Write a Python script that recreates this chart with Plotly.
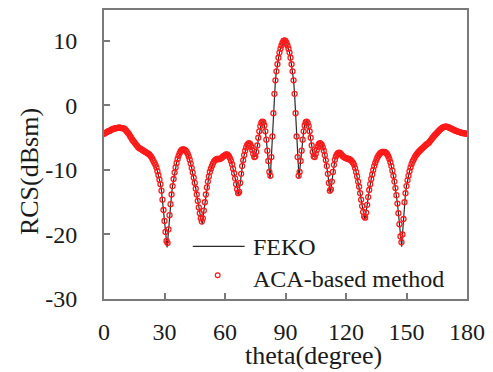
import plotly.graph_objects as go

# ---- data (theta sampled every 0.5 degree) ----
theta = [i * 0.5 for i in range(361)]

aca_rcs = [
    -4.4, -4.3, -4.2, -4.1, -4.0, -3.95, -3.9, -3.8, -3.7, -3.65,
    -3.6, -3.55, -3.5, -3.5, -3.45, -3.45, -3.45, -3.5, -3.5, -3.55,
    -3.6, -3.7, -3.9, -4.1, -4.3, -4.5, -4.8, -5.0, -5.3, -5.5,
    -5.7, -5.9, -6.1, -6.3, -6.5, -6.6, -6.7, -6.8, -6.9, -7.0,
    -7.1, -7.2, -7.3, -7.4, -7.5, -7.6, -7.8, -8.0, -8.3, -8.6,
    -8.9, -9.2, -9.6, -10.2, -10.8, -11.5, -12.2, -13.2, -14.6, -16.2,
    -17.9, -19.6, -21.0, -21.3, -19.2, -17.0, -15.3, -13.8, -12.5, -11.4,
    -10.4, -9.6, -8.9, -8.3, -7.8, -7.4, -7.1, -6.9, -6.8, -6.8,
    -6.9, -7.0, -7.2, -7.5, -7.9, -8.4, -9.0, -9.7, -10.4, -11.2,
    -12.0, -12.9, -13.8, -14.8, -15.8, -16.7, -17.5, -18.0, -17.5, -16.3,
    -15.0, -13.8, -12.7, -11.8, -11.0, -10.3, -9.8, -9.4, -9.0, -8.7,
    -8.5, -8.4, -8.3, -8.3, -8.3, -8.3, -8.2, -8.1, -7.9, -7.8,
    -7.7, -7.6, -7.6, -7.7, -7.9, -8.2, -8.6, -9.1, -9.8, -10.5,
    -11.3, -12.2, -13.0, -13.6, -13.4, -12.0, -10.6, -9.4, -8.5, -7.7,
    -7.0, -6.5, -6.1, -5.9, -5.85, -6.0, -6.4, -6.9, -7.5, -8.0,
    -7.9, -7.2, -6.2, -5.0, -4.0, -3.2, -2.7, -2.5, -2.6, -3.1,
    -4.0, -5.3, -7.0, -8.6, -10.3, -10.9, -8.0, -4.8, -1.2, 1.8,
    3.9, 5.3, 6.4, 7.4, 8.2, 8.8, 9.3, 9.7, 10.0, 10.1,
    10.0, 9.7, 9.3, 8.8, 8.2, 7.4, 6.4, 5.3, 3.9, 1.8,
    -1.2, -4.8, -8.0, -10.9, -10.3, -8.6, -7.0, -5.3, -4.0, -3.1,
    -2.6, -2.5, -2.7, -3.2, -4.0, -5.0, -6.2, -7.2, -7.9, -8.0,
    -7.5, -6.9, -6.4, -6.0, -5.85, -5.9, -6.1, -6.5, -7.0, -7.7,
    -8.5, -9.4, -10.6, -12.0, -13.2, -13.0, -11.8, -10.3, -9.2, -8.4,
    -7.9, -7.6, -7.4, -7.3, -7.35, -7.5, -7.7, -7.9, -8.0, -8.1,
    -8.2, -8.2, -8.3, -8.3, -8.4, -8.5, -8.7, -8.9, -9.2, -9.7,
    -10.3, -11.0, -11.8, -12.6, -13.6, -14.6, -15.6, -16.5, -17.2, -17.4,
    -16.6, -15.4, -14.2, -13.1, -12.2, -11.4, -10.7, -10.0, -9.4, -8.9,
    -8.5, -8.1, -7.8, -7.6, -7.4, -7.3, -7.2, -7.2, -7.2, -7.25,
    -7.4, -7.6, -7.9, -8.3, -8.8, -9.4, -10.1, -10.9, -11.8, -12.8,
    -13.9, -15.2, -16.7, -18.4, -20.3, -21.2, -20.0, -17.6, -15.0, -13.6,
    -12.5, -11.6, -10.9, -10.2, -9.6, -9.1, -8.7, -8.4, -8.1, -7.8,
    -7.6, -7.4, -7.2, -7.05, -6.9, -6.75, -6.6, -6.45, -6.3, -6.15,
    -6.0, -5.9, -5.8, -5.6, -5.4, -5.2, -5.0, -4.8, -4.6, -4.45,
    -4.3, -4.1, -3.95, -3.8, -3.65, -3.5, -3.4, -3.35, -3.3, -3.3,
    -3.3, -3.35, -3.4, -3.5, -3.55, -3.65, -3.7, -3.8, -3.85, -3.95,
    -4.0, -4.05, -4.1, -4.15, -4.2, -4.25, -4.3, -4.3, -4.35, -4.35,
    -4.4,
]

# FEKO reaches slightly deeper at the nulls (between samples)
feko_null_theta = [31.3, 48.7, 66.8, 82.3, 96.7, 112.2, 129.3, 147.6]
feko_null_rcs = [-22.0, -18.4, -13.9, -11.3, -11.3, -13.6, -17.7, -21.9]

x_ticks = [0, 30, 60, 90, 120, 150, 180]
x_ticktext = ["0", "30", "60", "90", "120", "150", "180"]
y_ticks = [-30, -20, -10, 0, 10]
y_ticktext = ["-30", "-20", "-10", "0", "10"]

feko_name = "FEKO"
aca_name = "ACA-based method"

# ---- merge FEKO line points ----
pts = sorted(list(zip(theta, aca_rcs)) + list(zip(feko_null_theta, feko_null_rcs)))
feko_x = [p[0] for p in pts]
feko_y = [p[1] for p in pts]

FONT = "Liberation Serif"
FRAME = "#7a7a7a"
TXT = "#1a1a1a"
RED = "#ff1a1a"

fig = go.Figure()
fig.add_trace(go.Scatter(
    x=feko_x, y=feko_y, mode="lines", name=feko_name,
    line=dict(color="#2a2a2a", width=1.2), showlegend=False,
))
fig.add_trace(go.Scatter(
    x=theta, y=aca_rcs, mode="markers", name=aca_name,
    marker=dict(symbol="circle-open", size=5, color=RED,
                line=dict(color=RED, width=1.3)),
    showlegend=False,
))

# plot area in pixels
L, R, T, B = 104, 468, 8, 299
W, H = 493, 372


def px(xp):
    return (xp - L) / (R - L)


def py(yp):
    return (B - yp) / (B - T)


fig.update_layout(
    width=W, height=H,
    margin=dict(l=L, r=W - R, t=T, b=H - B),
    plot_bgcolor="white", paper_bgcolor="white",
    font=dict(family=FONT, size=24, color=TXT),
    showlegend=False,
)
fig.update_xaxes(
    range=[0, 180], tickvals=x_ticks, ticktext=x_ticktext,
    ticks="inside", ticklen=6, tickwidth=1.5, tickcolor=FRAME,
    showline=True, linecolor=FRAME, linewidth=2, mirror=True,
    showgrid=False, zeroline=False,
    tickfont=dict(family=FONT, size=24, color=TXT),
    ticklabelstandoff=10,
)
fig.update_yaxes(
    range=[-30, 14.8], tickvals=y_ticks, ticktext=y_ticktext,
    ticks="inside", ticklen=6, tickwidth=1.5, tickcolor=FRAME,
    showline=True, linecolor=FRAME, linewidth=2, mirror=True,
    showgrid=False, zeroline=False,
    tickfont=dict(family=FONT, size=24, color=TXT),
    ticklabelstandoff=20,
)

# legend (drawn manually to match the long line sample)
fig.add_shape(type="line", xref="paper", yref="paper",
              x0=px(193), x1=px(245), y0=py(246), y1=py(246),
              line=dict(color="#2a2a2a", width=1.2))
r = 2.4
fig.add_shape(type="circle", xref="paper", yref="paper",
              x0=px(218 - r), x1=px(218 + r), y0=py(275 + r), y1=py(275 - r),
              line=dict(color=RED, width=1.2))
fig.add_annotation(text=feko_name, xref="paper", yref="paper",
                   x=px(251), y=py(247), xanchor="left", yanchor="middle",
                   showarrow=False, font=dict(family=FONT, size=24, color=TXT))
fig.add_annotation(text=aca_name, xref="paper", yref="paper",
                   x=px(251), y=py(279), xanchor="left", yanchor="middle",
                   showarrow=False, font=dict(family=FONT, size=24, color=TXT))

# axis titles
fig.add_annotation(text="theta(degree)", xref="paper", yref="paper",
                   x=px(314), y=py(356), xanchor="center", yanchor="middle",
                   showarrow=False, font=dict(family=FONT, size=26, color=TXT))
fig.add_annotation(text="RCS(dBsm)", xref="paper", yref="paper",
                   x=px(30), y=py(171), xanchor="center", yanchor="middle",
                   textangle=-90, showarrow=False,
                   font=dict(family=FONT, size=26, color=TXT))

fig.write_html(
    "out.html",
    config={"displayModeBar": False},
    post_script="document.body.style.margin='0';document.body.style.padding='0';",
)
